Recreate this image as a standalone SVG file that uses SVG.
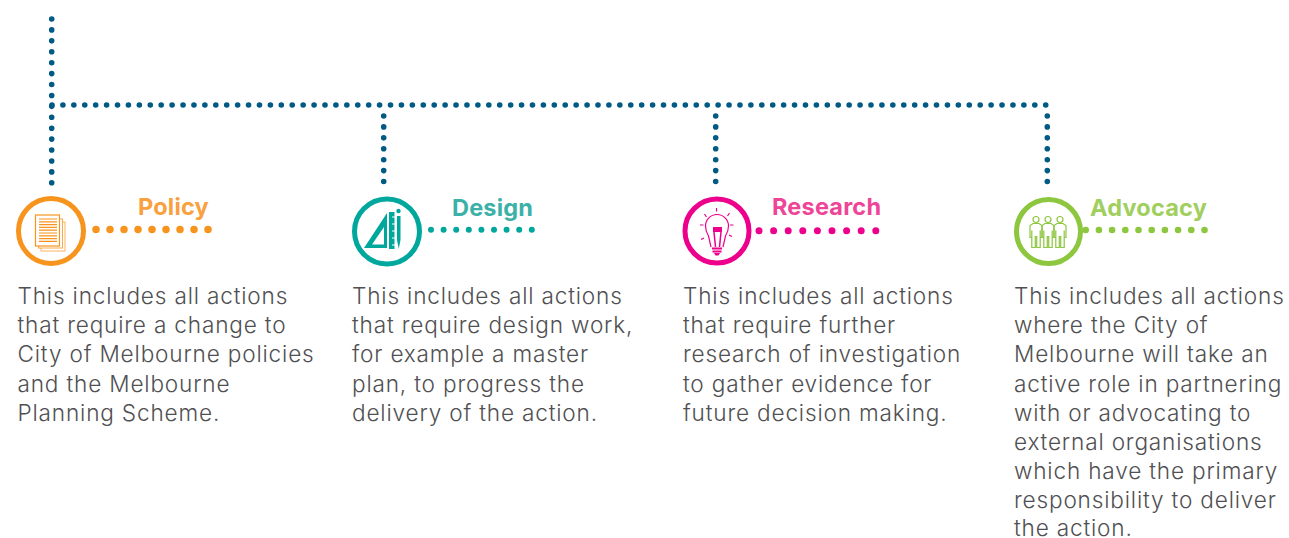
<svg xmlns="http://www.w3.org/2000/svg" width="1289" height="538" viewBox="0 0 1289 538">
<style>
text{font-family:"Inter","Liberation Sans",sans-serif}
.b{font-size:22.6px;font-weight:350;fill:#505052;letter-spacing:.82px}
.h{font-size:23.5px;font-weight:700;letter-spacing:.2px}
.d{fill:none;stroke-linecap:round}
.bl{stroke:#005a83;stroke-width:5.600;stroke-dasharray:0 10.92}
.ring{fill:#fff;stroke-width:5}
.i{fill:none;stroke-width:1.200}
</style>
<rect width="1289" height="538" fill="#fff"/>
<g id="connectors">
<path class="d bl" d="M51.700 19V183"/>
<path class="d bl" d="M52 105H1048"/>
<path class="d bl" d="M383.700 116V182"/>
<path class="d bl" d="M715.700 116V182"/>
<path class="d bl" d="M1047.300 116V182"/>
<path class="d" stroke="#f7941e" stroke-width="7.500" stroke-dasharray="0 14" d="M96 229.500H209"/>
<path class="d" stroke="#00a79d" stroke-width="6" stroke-dasharray="0 12.600" d="M431 229.700H532"/>
<path class="d" stroke="#ec008c" stroke-width="7" stroke-dasharray="0 14.600" d="M759 230.700H876"/>
<path class="d" stroke="#8dc63f" stroke-width="6.600" stroke-dasharray="0 13.200" d="M1085.700 230H1205"/>
</g>
<g id="policy">
<circle class="ring" cx="51" cy="231" r="32.500" stroke="#f7941e"/>
<g fill="#fff" stroke="#f7941e">
<rect x="41" y="222" width="24" height="29" stroke-width="1" stroke-opacity=".7"/>
<rect x="38.500" y="219" width="24" height="29" stroke-width="1" stroke-opacity=".8"/>
<rect x="35.500" y="215" width="24" height="31" stroke-width="1.200"/>
</g>
<path stroke="#f7941e" stroke-width="1.200" d="M39 219h18M39 221.800h18M39 224.600h18M39 227.400h18M39 230.200h18M39 233h18M39 235.800h18M39 238.600h18M39 241.400h18"/>
<text class="h" x="138" y="215" fill="#f9a03f" letter-spacing=".5">Policy</text>
<text class="b"><tspan x="17.500" y="304">This includes all actions</tspan><tspan x="17.500" y="333">that require a change to</tspan><tspan x="17.500" y="362">City of Melbourne policies</tspan><tspan x="17.500" y="392">and the Melbourne</tspan><tspan x="17.500" y="421">Planning Scheme.</tspan></text>
</g>
<g id="design">
<circle class="ring" cx="387" cy="231.500" r="32.500" stroke="#00a79d"/>
<path fill="#00a79d" fill-rule="evenodd" d="M364 248L387 213V248ZM372 244.500H384V227Z"/>
<path fill="#00a79d" d="M389 212h5.500v37h-5.500z"/>
<path stroke="#fff" stroke-width="1" d="M392 217h3M392 224h3M392 231h3M392 238h3M392 245h3"/>
<path fill="#00a79d" d="M397 216h3.500v24l-1.750 9-1.750-9z"/>
<circle cx="398.500" cy="211" r="2.200" fill="#00a79d"/>
<text class="h" x="452" y="216" fill="#3cb1a7">Design</text>
<text class="b"><tspan x="352" y="304">This includes all actions</tspan><tspan x="352" y="333">that require design work,</tspan><tspan x="352" y="362">for example a master</tspan><tspan x="352" y="392">plan, to progress the</tspan><tspan x="352" y="421">delivery of the action.</tspan></text>
</g>
<g id="research">
<circle class="ring" cx="717" cy="231" r="32" stroke="#ec008c"/>
<path class="i" stroke="#ec008c" d="M711 247L708.500 236C706 232 705.500 229 705.500 226A11.500 11.500 0 0 1 728.500 226C728.500 229 728 232 725.500 236L723 247"/>
<path fill="#ec008c" d="M713 227h9v5h-9z"/>
<path stroke="#ec008c" stroke-width="1.500" fill="none" d="M714 232L715.500 247M721 232L719.500 247"/>
<path fill="#ec008c" d="M712 247.500h10v2h-10zM712.500 250.500h9v2h-9zM714 253h6l-1.500 2.500h-3z"/>
<path stroke="#ec008c" stroke-width="1.200" d="M716.500 208v3.500M704.500 214l2 3M729.500 213l-2 3M700 225h3.500M730 225h3.500M704 238l-3 1.500M729 235l3 1.500"/>
<text class="h" x="772" y="215" fill="#ee4598">Research</text>
<text class="b"><tspan x="683" y="304">This includes all actions</tspan><tspan x="683" y="333">that require further</tspan><tspan x="683" y="362">research of investigation</tspan><tspan x="683" y="392">to gather evidence for</tspan><tspan x="683" y="421">future decision making.</tspan></text>
</g>
<g id="advocacy">
<circle class="ring" cx="1048.500" cy="231.500" r="32" stroke="#8dc63f"/>
<defs><g id="p"><circle cx="0" cy="-13" r="3"/><path d="M-3-9H3L6-7V5H4.200V-2V15H.7V4H-.7V15H-4.200V-2V5H-6V-7Z"/></g></defs>
<g class="i" stroke="#8dc63f" fill="none"><use href="#p" x="1036" y="232.500"/><use href="#p" x="1048" y="232.500"/><use href="#p" x="1060" y="232.500"/></g>
<text class="h" x="1090" y="216" fill="#a1cf5f">Advocacy</text>
<text class="b"><tspan x="1014" y="304">This includes all actions</tspan><tspan x="1014" y="333">where the City of</tspan><tspan x="1014" y="362">Melbourne will take an</tspan><tspan x="1014" y="392">active role in partnering</tspan><tspan x="1014" y="421">with or advocating to</tspan><tspan x="1014" y="450">external organisations</tspan><tspan x="1014" y="479">which have the primary</tspan><tspan x="1014" y="508">responsibility to deliver</tspan><tspan x="1014" y="536">the action.</tspan></text>
</g>
</svg>
